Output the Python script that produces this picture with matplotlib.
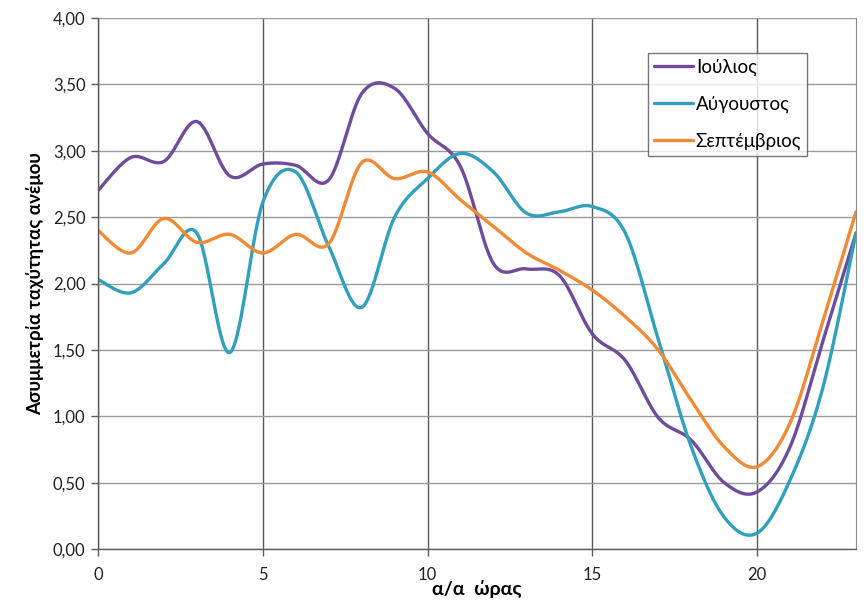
import numpy as np
import matplotlib
matplotlib.use("Agg")
import matplotlib.pyplot as plt
from matplotlib.ticker import FuncFormatter, MultipleLocator

hours = list(range(24))
july = [2.70, 2.95, 2.92, 3.22, 2.81, 2.90, 2.89, 2.78, 3.43, 3.47, 3.13, 2.88,
        2.15, 2.11, 2.06, 1.62, 1.42, 0.99, 0.82, 0.50, 0.43, 0.77, 1.57, 2.38]
august = [2.03, 1.93, 2.15, 2.38, 1.48, 2.61, 2.84, 2.28, 1.82, 2.50, 2.79, 2.98,
          2.84, 2.53, 2.54, 2.58, 2.38, 1.58, 0.77, 0.24, 0.12, 0.52, 1.22, 2.38]
september = [2.40, 2.23, 2.49, 2.31, 2.37, 2.23, 2.37, 2.30, 2.91, 2.79, 2.84, 2.63,
             2.43, 2.23, 2.10, 1.95, 1.75, 1.50, 1.12, 0.77, 0.62, 0.95, 1.72, 2.54]
series_names = ["Ιούλιος", "Αύγουστος", "Σεπτέμβριος"]
colors = ["#6E4C9B", "#31A0BD", "#F08A35"]


def smooth(x, y, n=30):
    x = np.asarray(x, float)
    y = np.asarray(y, float)
    P = np.column_stack([x, y])
    Pe = np.vstack([P[0], P, P[-1]])
    out = []
    t = np.linspace(0, 1, n)[:, None]
    for i in range(len(P) - 1):
        p0, p1, p2, p3 = Pe[i], Pe[i + 1], Pe[i + 2], Pe[i + 3]
        b1 = p1 + (p2 - p0) / 6
        b2 = p2 - (p3 - p1) / 6
        seg = ((1 - t) ** 3) * p1 + 3 * ((1 - t) ** 2) * t * b1 + 3 * (1 - t) * t ** 2 * b2 + t ** 3 * p2
        out.append(seg if i == 0 else seg[1:])
    c = np.vstack(out)
    return c[:, 0], c[:, 1]


plt.rcParams['font.family'] = ['Lato', 'DejaVu Sans']
fig = plt.figure(figsize=(8.66, 6.12), dpi=100)
ax = fig.add_axes([98 / 866, 1 - 549 / 612, (856 - 98) / 866, (549 - 18) / 612])

for name, vals, col in zip(series_names, [july, august, september], colors):
    sx, sy = smooth(hours, vals)
    ax.plot(sx, sy, color=col, lw=2.4, label=name, solid_capstyle='round')

ax.set_xlim(0, 23)
ax.set_ylim(0, 4)
ax.xaxis.set_major_locator(MultipleLocator(5))
ax.yaxis.set_major_locator(MultipleLocator(0.5))
ax.yaxis.set_major_formatter(FuncFormatter(lambda v, p: f"{v:.2f}".replace('.', ',')))

ax.grid(axis='y', color='#9a9a9a', lw=1.0)
ax.grid(axis='x', color='#5a5a5a', lw=1.0)
ax.set_axisbelow(True)

for s in ['left', 'bottom']:
    ax.spines[s].set_color('#5a5a5a')
    ax.spines[s].set_linewidth(1.0)
ax.spines['right'].set_color('#8a8a8a')
ax.spines['top'].set_visible(False)

ax.tick_params(axis='both', colors='#5a5a5a', labelcolor='#222222', labelsize=12, length=5, width=1)
ax.tick_params(axis='y', pad=4)
ax.tick_params(axis='x', pad=8)

ax.set_xlabel("α/α  ώρας", fontsize=14, fontweight='bold', labelpad=-2)
ax.set_ylabel("Ασυμμετρία ταχύτητας ανέμου", fontsize=13.5, fontweight='bold', labelpad=6)

leg = ax.legend(loc='upper left', bbox_to_anchor=((648 - 98) / 758, 1 - (53 - 18) / 531),
                frameon=True, fancybox=False, fontsize=13.5, handlelength=2.1,
                labelspacing=1.05, borderpad=0.3, handletextpad=0.15, borderaxespad=0)
leg.get_frame().set_edgecolor('#555555')
leg.get_frame().set_linewidth(1.0)

fig.savefig("out.png", dpi=100)
